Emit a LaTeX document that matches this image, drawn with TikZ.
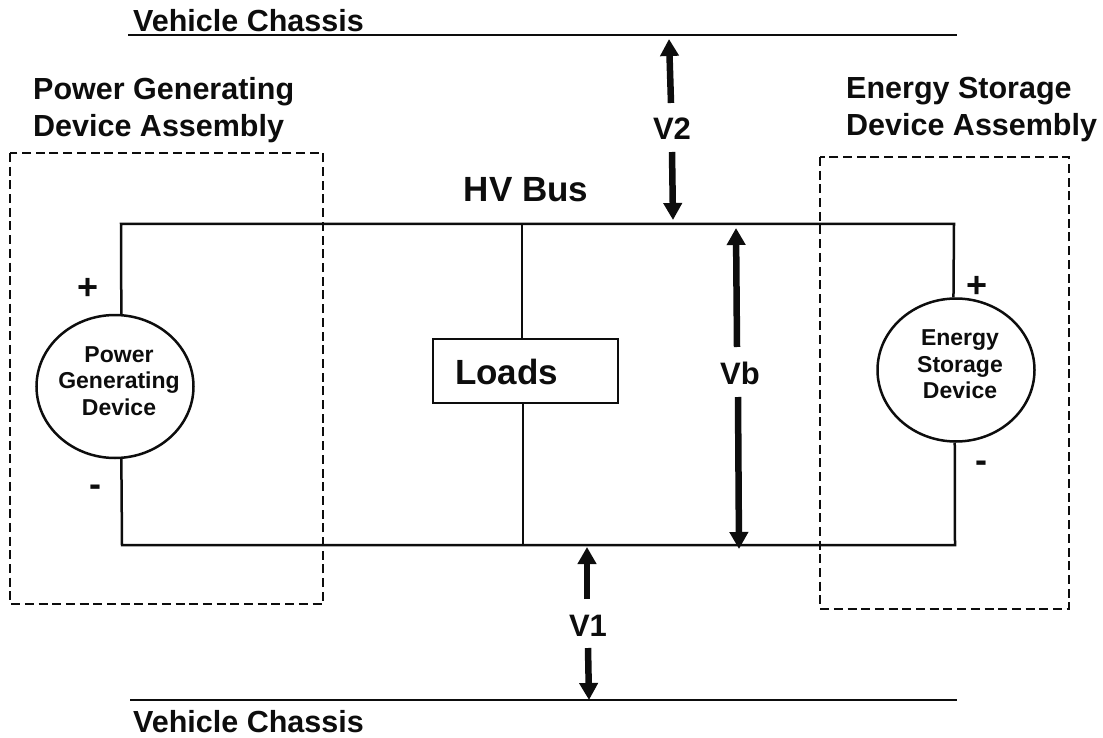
\documentclass[tikz,border=0pt]{standalone}
\usepackage{fontspec}
\setmainfont{Liberation Sans}
\usetikzlibrary{arrows.meta,shapes.geometric}
\definecolor{ink}{gray}{0.05}
\begin{document}
\begin{tikzpicture}[x=1pt,y=-1pt,color=ink,
 wire/.style={line width=2.5pt},
 dash box/.style={line width=2.5pt,dash pattern=on 9pt off 4.7pt},
 arrowline/.style={line width=6.5pt,-{Triangle[length=17pt,width=18pt]}},
 big/.style={font=\bfseries\fontsize{30.5}{36}\selectfont,inner sep=0pt,anchor=base west},
 label/.style={font=\bfseries\fontsize{31}{36}\selectfont,inner sep=0pt,anchor=base},
 small/.style={font=\bfseries\fontsize{23}{27}\selectfont,inner sep=0pt,anchor=base},
 sign/.style={font=\bfseries\fontsize{36}{40}\selectfont,inner sep=0pt},
 source/.style={ellipse,draw,wire,fill=white,inner sep=0pt,minimum width=157pt,minimum height=143pt}]
\useasboundingbox (0,0) rectangle (1103,738);
\draw[wire] (128,35) coordinate (c1) -- (957,35) coordinate (c2);
\draw[wire] (130,700) coordinate (c3) -- (957,700) coordinate (c4);
\node[big] (vc1) at (133,32) {Vehicle Chassis};
\node[big] (vc2) at (133,732.5) {Vehicle Chassis};
\node[big] (pg) at (33,100) {Power Generating};
\node[big] (pg2) at (33,137) {Device Assembly};
\node[big] (es) at (846,99) {Energy Storage};
\node[big] (es2) at (846,136) {Device Assembly};
\node[font=\bfseries\fontsize{35}{40}\selectfont,inner sep=0pt,anchor=base] (hv) at (526,202) {HV Bus};
\draw[dash box] (10,153) rectangle (323,604);
\draw[dash box] (820,157) rectangle (1069,609);
\node[source] (pgd) at (115,386.5) {};
\node[source] (esd) at (956,370) {};
\node[small] (t1) at (119,362) {Power};
\node[small] (t2) at (119,388) {Generating};
\node[small] (t3) at (119,415) {Device};
\node[small] (t4) at (960,345) {Energy};
\node[small] (t5) at (960,372) {Storage};
\node[small] (t6) at (960,398) {Device};
\coordinate (tl) at (121,224); \coordinate (tr) at (954,224);
\coordinate (bl) at (122,545); \coordinate (br) at (955,545);
\draw[wire] (pgd.85) -- (tl) -- (tr) -- (esd.92);
\draw[wire] (pgd.-85) -- (bl) -- (br) -- (esd.-91);
\node[draw,wire,fill=white,minimum width=185pt,minimum height=64pt,inner sep=0pt] (loads) at (525.5,371) {};
\node[font=\bfseries\fontsize{35}{40}\selectfont,inner sep=0pt,anchor=base west] (lt0) at (455,384) {Loads};
\coordinate (lt) at (522,224); \coordinate (lb) at (523,545);
\draw[wire] (lt) -- (lt|-loads.north);
\draw[wire] (lb|-loads.south) -- (lb);
\node[label] (v2) at (672,140) {V2};
\node[label] (v1) at (588,636) {V1};
\node[label] (vb) at (740,384) {Vb};
\coordinate (s1) at (671,103); \coordinate (a1) at (669,39);
\coordinate (s2) at (672,152); \coordinate (a2) at (673,220);
\coordinate (s3) at (587,599); \coordinate (a3) at (587,547);
\coordinate (s4) at (588,648); \coordinate (a4) at (589,700);
\coordinate (s5) at (737,347); \coordinate (a5) at (736,228);
\coordinate (s6) at (738,397); \coordinate (a6) at (739,549);
\draw[arrowline] (s1) -- (a1);
\draw[arrowline] (s2) -- (a2);
\draw[arrowline] (s3) -- (a3);
\draw[arrowline] (s4) -- (a4);
\draw[arrowline] (s5) -- (a5);
\draw[arrowline] (s6) -- (a6);
\node[sign] (p1) at (88,289) {+};
\node[sign,anchor=base] (m1) at (95,496) {-};
\node[sign] (p2) at (977,287) {+};
\node[sign,anchor=base] (m2) at (981,472) {-};
\end{tikzpicture}
\end{document}
